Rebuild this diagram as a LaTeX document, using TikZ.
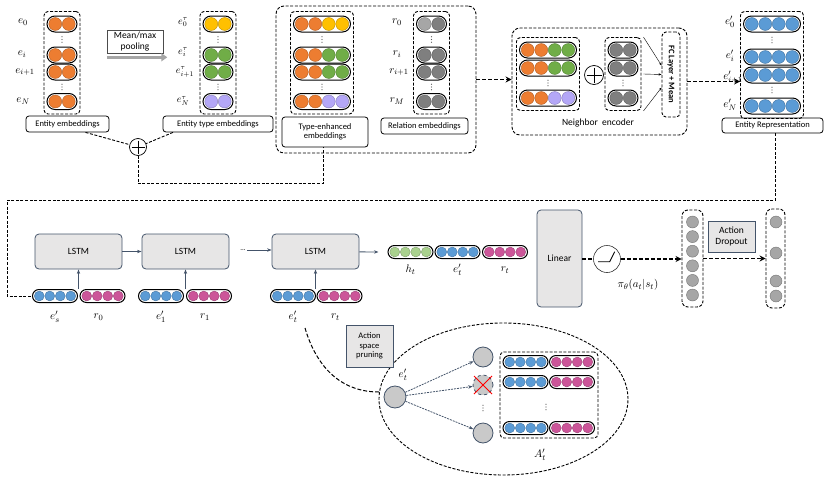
\documentclass[tikz,border=0pt]{standalone}
\usepackage{fontspec}
\setsansfont{Carlito}
\usetikzlibrary{calc,fit,arrows.meta}

\definecolor{orgc}{HTML}{ED7D31}
\definecolor{ylwc}{HTML}{FFC000}
\definecolor{grnc}{HTML}{70AD47}
\definecolor{lavc}{HTML}{B4A7F7}
\definecolor{dgyc}{HTML}{7F7F7F}
\definecolor{lgyc}{HTML}{A6A6A6}
\definecolor{bluc}{HTML}{5B9BD5}
\definecolor{pnkc}{HTML}{CC5599}
\definecolor{lgrc}{HTML}{A9D18E}
\definecolor{slate}{HTML}{44546A}
\definecolor{boxfill}{HTML}{E7E6E6}
\definecolor{nodec}{HTML}{C9C9C9}

\tikzset{
  dot/.style={fill=#1, draw=#1!75!black, line width=0.4pt},
  pill/.style={draw, line width=1pt, rectangle, inner sep=0pt},
  dashed line/.style={line width=0.9pt, dash pattern=on 3pt off 1.6pt},
  dashbox/.style={draw, dashed line, rounded corners=4pt, inner sep=0pt},
  labbox/.style={draw, line width=0.8pt, rounded corners=3pt, inner sep=1pt,
    font=\sffamily\fontsize{8.5}{9.5}\selectfont, align=center},
  graybox/.style={draw=slate, fill=boxfill, line width=0.8pt, rounded corners=4pt,
    font=\sffamily\fontsize{9.5}{11}\selectfont, align=center},
  flowarr/.style={-{Stealth[length=4.5pt]}, draw=slate, line width=0.8pt},
  dasharr/.style={-{Stealth[length=6pt,width=6pt]}, line width=1.6pt, dash pattern=on 4pt off 2pt},
  prunarr/.style={-{Stealth[length=4.5pt]}, draw=slate, line width=0.8pt, dash pattern=on 2pt off 1pt},
  mlab/.style={font=\fontsize{11}{13}\selectfont, inner sep=0pt},
  tlab/.style={font=\fontsize{10}{12}\selectfont, inner sep=0pt},
  actdot/.style={circle, fill=lgyc, draw=lgyc!70!black, line width=0.4pt, minimum size=12pt, inner sep=0pt},
  actnode/.style={circle, fill=nodec, draw=slate, line width=0.8pt, minimum size=#1, inner sep=0pt},
  oplus/.style={circle, draw, line width=0.7pt, minimum size=#1, inner sep=0pt,
    path picture={\draw[line width=0.7pt] ([yshift=-2pt]path picture bounding box.north) -- ([yshift=2pt]path picture bounding box.south)
      ([xshift=2pt]path picture bounding box.west) -- ([xshift=-2pt]path picture bounding box.east);}},
}

% name, x, y, number of dots, dot size, dot colours
\newcommand{\pillrow}[6]{%
  \pgfmathsetmacro{\pw}{#4*#5+3}%
  \pgfmathsetmacro{\ph}{#5+2.5}%
  \pgfmathsetmacro{\pr}{\ph/2}%
  \node[pill, minimum width=\pw pt, minimum height=\ph pt, rounded corners=\pr pt] (#1) at (#2,#3) {};
  \foreach \col [count=\k] in {#6}
    \draw[dot=\col] ($(#1.center)+({(\k-0.5-#4/2)*#5},0)$) circle ({#5/2-0.3});
}
% name, x, y : small vertical dots
\newcommand{\vdts}[3]{%
  \coordinate (#1) at (#2,#3);
  \foreach \d in {-2.7,0,2.7}
    \fill[black!65] ($(#1)+(0,\d)$) circle (0.6);
}

\begin{document}
\begin{tikzpicture}[x=1pt,y=-1pt]
  \useasboundingbox (0,0) rectangle (830,482);

  % entity embeddings
  \pillrow{ee0}{62}{24}{2}{13.5}{orgc,orgc}
  \pillrow{eei}{62}{55}{2}{13.5}{orgc,orgc}
  \pillrow{eej}{62}{72}{2}{13.5}{orgc,orgc}
  \pillrow{eeN}{62}{101.5}{2}{13.5}{orgc,orgc}
  \vdts{eed1}{62}{39.5}
  \vdts{eed2}{62}{87}
  \node[dashbox, fit=(ee0)(eeN), inner xsep=2.5pt, inner ysep=4pt] (eebox) {};
  \node[mlab] at (23,22) {$e_0$};
  \node[mlab] at (22,54) {$e_i$};
  \node[mlab] at (25,72) {$e_{i+1}$};
  \node[mlab] at (23,101) {$e_N$};
  \node[labbox, minimum width=83pt, minimum height=16pt] (eelab) at (67.5,124) {Entity embeddings};

  % pooling
  \node[draw=black!70, line width=0.6pt, minimum width=56pt, minimum height=23pt, inner sep=0pt,
    font=\sffamily\fontsize{9.5}{10.5}\selectfont, align=center] (pool) at (135,41.5) {Mean/max\\pooling};
  \draw[line width=2.5pt, lgyc, -{Triangle[length=6pt,width=8pt]}]
    ([yshift=-4pt]pool.south west) -- ([yshift=-4pt,xshift=4pt]pool.south east);

  % entity type embeddings
  \pillrow{te0}{218}{24}{2}{13.5}{ylwc,ylwc}
  \pillrow{tei}{218}{55}{2}{13.5}{grnc,grnc}
  \pillrow{tej}{218}{72}{2}{13.5}{grnc,grnc}
  \pillrow{teN}{218}{101.5}{2}{13.5}{lavc,lavc}
  \vdts{ted1}{218}{39.5}
  \vdts{ted2}{218}{87}
  \node[dashbox, fit=(te0)(teN), inner xsep=2.5pt, inner ysep=4pt] (tebox) {};
  \node[tlab] at (183,22) {$e_0^{\tau}$};
  \node[tlab] at (183,52) {$e_i^{\tau}$};
  \node[tlab] at (185,72) {$e_{i+1}^{\tau}$};
  \node[tlab] at (183,101) {$e_N^{\tau}$};
  \node[labbox, minimum width=110pt, minimum height=16pt] (telab) at (218,124) {Entity type embeddings};

  \node[oplus=17pt] (plus1) at (138,147) {};
  \draw[dashed line] ([xshift=18pt]eelab.south) -- (plus1);
  \draw[dashed line] ([xshift=-45pt]telab.south) -- (plus1);

  % type-enhanced and relation embeddings
  \node[dashbox, rounded corners=8pt, minimum width=200pt, minimum height=147pt] (grp) at (376,79.5) {};
  \pillrow{tx0}{322}{24}{4}{13.5}{orgc,orgc,ylwc,ylwc}
  \pillrow{txi}{322}{55}{4}{13.5}{orgc,orgc,grnc,grnc}
  \pillrow{txj}{322}{72}{4}{13.5}{orgc,orgc,grnc,grnc}
  \pillrow{txN}{322}{101.5}{4}{13.5}{orgc,orgc,lavc,lavc}
  \vdts{txd1}{322}{39.5}
  \vdts{txd2}{322}{87}
  \node[dashbox, fit=(tx0)(txN), inner xsep=2.5pt, inner ysep=4pt] (txbox) {};
  \node[labbox, minimum width=86pt, minimum height=30pt] (txlab) at (325,132) {Type-enhanced\\embeddings};

  \pillrow{re0}{431.5}{24}{2}{13.5}{lgyc,dgyc}
  \pillrow{rei}{431.5}{55}{2}{13.5}{dgyc,dgyc}
  \pillrow{rej}{431.5}{72}{2}{13.5}{dgyc,dgyc}
  \pillrow{reN}{431.5}{101.5}{2}{13.5}{dgyc,dgyc}
  \vdts{red1}{431.5}{39.5}
  \vdts{red2}{431.5}{87}
  \node[dashbox, fit=(re0)(reN), inner xsep=2.5pt, inner ysep=4pt] (rebox) {};
  \node[mlab] at (397,22) {$r_0$};
  \node[mlab] at (397,54) {$r_i$};
  \node[mlab] at (399,72) {$r_{i+1}$};
  \node[mlab] at (397,101) {$r_M$};
  \node[labbox, minimum width=87pt, minimum height=16pt] (relab) at (424.5,126) {Relation embeddings};

  \draw[dashed line] (plus1.south) -- ++(0,28) -| ([xshift=-2pt]txlab.south);

  % neighbor encoder
  \node[dashbox, rounded corners=8pt, minimum width=175pt, minimum height=107pt] (nbr) at (599.5,81.5) {};
  \node[font=\sffamily\fontsize{9.5}{10}\selectfont] (nbrlab) at (598,123) {Neighbor\ \ encoder};
  \pillrow{nt0}{548}{50}{4}{13.5}{orgc,orgc,grnc,grnc}
  \pillrow{nt1}{548}{68}{4}{13.5}{orgc,orgc,grnc,grnc}
  \pillrow{nt2}{548}{98}{4}{13.5}{orgc,orgc,lavc,lavc}
  \vdts{ntd}{548}{83}
  \node[dashbox, fit=(nt0)(nt2), inner xsep=2.5pt, inner ysep=4pt] (ntbox) {};
  \node[oplus=19pt] (plus2) at (594,75) {};
  \pillrow{ng0}{623}{50}{2}{13.5}{dgyc,dgyc}
  \pillrow{ng1}{623}{68}{2}{13.5}{dgyc,dgyc}
  \pillrow{ng2}{623}{98}{2}{13.5}{dgyc,dgyc}
  \vdts{ngd}{623}{83}
  \node[dashbox, fit=(ng0)(ng2), inner xsep=2.5pt, inner ysep=4pt] (ngbox) {};
  \node[dashbox, minimum width=18pt, minimum height=85pt] (fc) at (671,74.5) {};
  \node[rotate=-90, font=\sffamily\bfseries\fontsize{8.5}{9}\selectfont] at (fc) {FC Layer + Mean};
  \draw[-{Stealth[length=3pt]}, line width=0.4pt] ([xshift=2pt]ngbox.north east) -- ([yshift=9pt]fc.west);
  \draw[-{Stealth[length=3pt]}, line width=0.4pt] ([xshift=2pt]ngbox.east) -- (fc.west);
  \draw[-{Stealth[length=3pt]}, line width=0.4pt] ([xshift=2pt]ngbox.south east) -- ([yshift=-13pt]fc.west);

  \draw[dasharr] (grp.east) -- (grp.east -| nbr.west);

  % entity representation
  \pillrow{er0}{772}{24}{4}{13.5}{bluc,bluc,bluc,bluc}
  \pillrow{eri}{772}{57}{4}{13.5}{bluc,bluc,bluc,bluc}
  \pillrow{erj}{772}{75}{4}{13.5}{bluc,bluc,bluc,bluc}
  \pillrow{erN}{772}{106}{4}{13.5}{bluc,bluc,bluc,bluc}
  \vdts{erd1}{772}{40}
  \vdts{erd2}{772}{90}
  \node[dashbox, fit=(er0)(erN), inner xsep=2.5pt, inner ysep=4pt] (erbox) {};
  \node[mlab] at (730,22) {$e'_0$};
  \node[mlab] at (730,56) {$e'_i$};
  \node[mlab] at (733,77) {$e'_{i+1}$};
  \node[mlab] at (730,105) {$e'_N$};
  \node[labbox, minimum width=101pt, minimum height=15pt] (erlab) at (772.5,125.5) {Entity Representation};

  \draw[dasharr] (nbr.east) -- (nbr.east -| erbox.west);

  % path reasoning
  \coordinate (fbk) at (7,200);
  \node[graybox, minimum width=87pt, minimum height=35pt] (lstm1) at (78.5,251.5) {LSTM};
  \node[graybox, minimum width=87pt, minimum height=35pt] (lstm2) at (185.5,251.5) {LSTM};
  \node[graybox, minimum width=87pt, minimum height=35pt] (lstm3) at (315.5,251.5) {LSTM};
  \node[font=\sffamily\fontsize{7}{7}\selectfont, inner sep=1pt] (ldots) at (243,250) {...};

  \pillrow{es}{55}{296}{4}{10.5}{bluc,bluc,bluc,bluc}
  \pillrow{r0}{102.5}{296}{4}{10.5}{pnkc,pnkc,pnkc,pnkc}
  \pillrow{e1}{161}{296}{4}{10.5}{bluc,bluc,bluc,bluc}
  \pillrow{r1}{209}{296}{4}{10.5}{pnkc,pnkc,pnkc,pnkc}
  \pillrow{et}{293}{296}{4}{10.5}{bluc,bluc,bluc,bluc}
  \pillrow{rt}{339.5}{296}{4}{10.5}{pnkc,pnkc,pnkc,pnkc}
  \node[mlab] at ([yshift=-21pt]es.center) {$e'_s$};
  \node[mlab] at ([yshift=-21pt,xshift=-4pt]r0.center) {$r_0$};
  \node[mlab] at ([yshift=-21pt]e1.center) {$e'_1$};
  \node[mlab] at ([yshift=-21pt,xshift=-4pt]r1.center) {$r_1$};
  \node[mlab] at ([yshift=-21pt]et.center) {$e'_t$};
  \node[mlab] at ([yshift=-21pt,xshift=-4pt]rt.center) {$r_t$};

  \draw[flowarr] (lstm1.south |- es.north) -- (lstm1.south);
  \draw[flowarr] (lstm2.south |- e1.north) -- (lstm2.south);
  \draw[flowarr] (lstm3.south |- et.north) -- (lstm3.south);
  \draw[flowarr] (lstm1) -- (lstm2);
  \draw[flowarr] (ldots) -- (ldots -| lstm3.west);

  \pillrow{ht}{410.5}{252}{4}{10.5}{lgrc,lgrc,lgrc,lgrc}
  \pillrow{eo}{457.5}{252}{4}{10.5}{bluc,bluc,bluc,bluc}
  \pillrow{ro}{505}{252}{4}{10.5}{pnkc,pnkc,pnkc,pnkc}
  \node[mlab] at ([yshift=-18pt]ht.center) {$h_t$};
  \node[mlab] at ([yshift=-18pt]eo.center) {$e'_t$};
  \node[mlab] at ([yshift=-18pt]ro.center) {$r_t$};
  \coordinate (htin) at ([xshift=-9pt]ht.west);
  \draw[flowarr] (lstm3) -- (htin);

  \draw[dashed line] ([xshift=3pt]erlab.south) |- (fbk) |- (es.west);

  % policy
  \node[graybox, minimum width=45pt, minimum height=97pt] (lin) at (559.5,258.5) {Linear};
  \node[circle, draw=black!80, line width=0.6pt, minimum size=27pt, inner sep=0pt] (act) at (607,259) {};
  \draw[line width=0.8pt] ($(act)+(-9,2.7)$) -- ++(11.7,0) -- ++(5,-10);
  \node[mlab] (pol) at (638,285) {$\pi_\theta(a_t|s_t)$};
  \draw[line width=1.3pt, dash pattern=on 4pt off 2pt] (lin.east |- act) -- (act.west);

  \node[dashbox, rounded corners=6pt, minimum width=21pt, minimum height=97pt] (col1) at (692.5,258.5) {};
  \foreach \yy [count=\k] in {222,236.6,251.2,265.8,280.4,295}
    \node[actdot] (a\k) at (692.5,\yy) {};
  \node[dashbox, rounded corners=6pt, minimum width=19pt, minimum height=99pt] (col2) at (775.5,258.5) {};
  \foreach \yy [count=\k] in {222,253,281,296}
    \node[actdot] (b\k) at (776,\yy) {};
  \node[graybox, sharp corners, minimum width=47pt, minimum height=31pt, inner sep=0pt] (drop) at (731.5,236.5) {Action\\Dropout};
  \draw[dasharr] (act.east) -- (act.east -| col1.west);
  \draw[dasharr] (col1.east) -- (col1.east -| col2.west);

  % action space pruning
  \draw[dashed line] (503.5,399) ellipse [x radius=124.5pt, y radius=76pt];
  \coordinate (cvs) at (305,328);
  \coordinate (ellL) at (379,392);
  \draw[line width=1pt, dash pattern=on 4pt off 2pt] (cvs) .. controls (318,372) and (345,392) .. (ellL);
  \node[graybox, sharp corners, minimum width=47pt, minimum height=42pt, inner sep=0pt,
    font=\sffamily\fontsize{8.5}{9.5}\selectfont] (prune) at (369.5,346) {Action\\space\\pruning};

  \node[actnode=22pt] (etc) at (395,397) {};
  \node[mlab] at (403,375) {$e'_t$};
  \node[actnode=20pt] (ac1) at (483,357) {};
  \node[actnode=20pt, dashed] (ac2) at (483,385) {};
  \vdts{acd}{483}{408}
  \node[actnode=20pt] (ac3) at (483,433) {};
  \draw[red, line width=1pt] ($(ac2)+(-9,-9)$) -- ($(ac2)+(9,9)$);
  \draw[red, line width=1pt] ($(ac2)+(-9,9)$) -- ($(ac2)+(9,-9)$);
  \draw[prunarr] (etc) -- (ac1);
  \draw[prunarr] (etc) -- (ac2);
  \draw[prunarr] (etc) -- (ac3);

  \node[dashbox, minimum width=98pt, minimum height=86pt] (abox) at (549,395) {};
  \pillrow{ab1}{525.5}{362}{4}{10.5}{bluc,bluc,bluc,bluc}
  \pillrow{ap1}{572}{362}{4}{10.5}{pnkc,pnkc,pnkc,pnkc}
  \pillrow{ab2}{525.5}{382}{4}{10.5}{bluc,bluc,bluc,bluc}
  \pillrow{ap2}{572}{382}{4}{10.5}{pnkc,pnkc,pnkc,pnkc}
  \pillrow{ab3}{525.5}{428}{4}{10.5}{bluc,bluc,bluc,bluc}
  \pillrow{ap3}{572}{428}{4}{10.5}{pnkc,pnkc,pnkc,pnkc}
  \vdts{abd}{546}{407}
  \node[mlab] at (540,455) {$A'_t$};
\end{tikzpicture}
\end{document}
